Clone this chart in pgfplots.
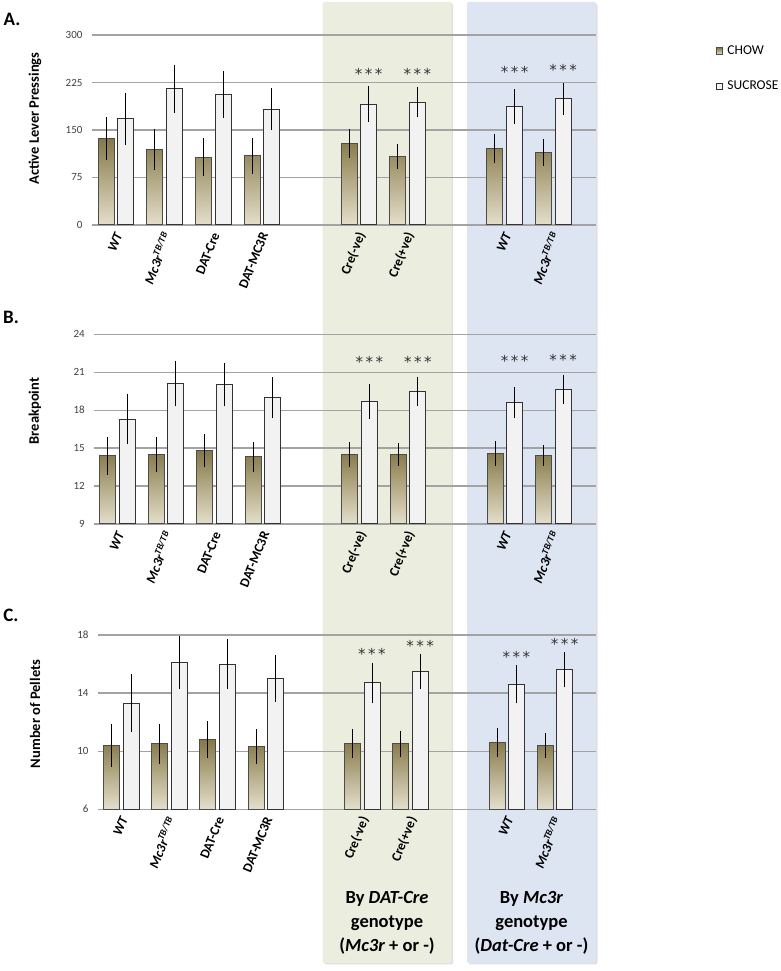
\documentclass[border=0pt]{standalone}
\usepackage{pgfplots}
\pgfplotsset{compat=1.18}
\usepackage{fontspec}
\setmainfont{Carlito}
\newfontfamily\starfont{DejaVu Sans}

\definecolor{chowtop}{HTML}{857845}
\definecolor{chowbot}{HTML}{E4DFCB}
\definecolor{sucfill}{HTML}{F2F2F2}
\definecolor{greenbg}{HTML}{EBEEDE}
\definecolor{bluebg}{HTML}{DCE5F1}
\definecolor{gridgray}{HTML}{A3A3A3}

\pgfplotsset{
  panel/.style={
    scale only axis, anchor=south west,
    ybar=3.6pt, bar width=16pt,
    axis line style={draw=none},
    major tick length=0pt,
    ymajorgrids, grid style={gridgray, line width=1.3pt},
    xtick={0,1,2,3,5,6,8,9},
    xticklabels={{\itshape WT}, {\itshape Mc3r\textsuperscript{TB/TB}}, DAT-Cre, DAT-MC3R,
                 Cre(-ve), Cre(+ve), {\itshape WT}, {\itshape Mc3r\textsuperscript{TB/TB}}},
    xticklabel style={font=\fontsize{13.5}{15}\selectfont\bfseries, xshift=4pt, yshift=-5pt, rotate=68, anchor=east},
    yticklabel style={font=\fontsize{11}{13}\selectfont, text=black!75, xshift=-6pt},
    /pgf/number format/assume math mode=true,
  },
  chow/.style={draw=black!70, line width=1pt, top color=chowtop, bottom color=chowbot},
  sucrose/.style={draw=black!80, line width=1pt, fill=sucfill},
}
\tikzset{stars/.style={font=\starfont\fontsize{15}{15}\selectfont, text=black!80}}

\begin{document}
\begin{tikzpicture}[x=1pt, y=1pt]
\path[use as bounding box] (0,0) rectangle (780,971);

% shaded group boxes
\fill[black!12, rounded corners=2pt] (324.2,6.5) rectangle (453.2,967.5);
\fill[greenbg, rounded corners=2pt] (322.7,8) rectangle (451.7,969);
\fill[black!12, rounded corners=2pt] (468.5,6.5) rectangle (597.5,967.5);
\fill[bluebg, rounded corners=2pt] (467,8) rectangle (596,969);

% A. active lever pressings
\begin{axis}[panel, at={(92pt,746pt)}, width=504pt, height=190pt,
    xmin=-0.494, xmax=9.877, ymin=0, ymax=300, ytick={0,75,150,225,300},
    legend style={at={(axis description cs:1.231,0.965)}, anchor=north west, draw=none, fill=none,
      font=\fontsize{13.5}{16}\selectfont, row sep=21pt, legend cell align=left},
    every axis plot post/.append style={legend image code/.code={%
      \draw[##1, line width=0.8pt] (0pt,-3.2pt) rectangle (6.4pt,3.2pt);}},
  ]
  \addplot[chow, error bars/.cd, y dir=both, y explicit, error mark=none, error bar style={black, line width=1pt}]
    coordinates {(0,137) +- (0,34) (1,119) +- (0,32) (2,107) +- (0,30) (3,109) +- (0,28)
                 (5,128) +- (0,23) (6,108) +- (0,20) (8,121) +- (0,23) (9,114) +- (0,21)};
  \addlegendentry{\hspace{2.6pt}CHOW}
  \addplot[sucrose, error bars/.cd, y dir=both, y explicit, error mark=none, error bar style={black, line width=1pt}]
    coordinates {(0,168) +- (0,41) (1,215) +- (0,38) (2,206) +- (0,37) (3,183) +- (0,33)
                 (5,191) +- (0,28) (6,194) +- (0,24) (8,187) +- (0,27) (9,199) +- (0,25)};
  \addlegendentry{\hspace{2.6pt}SUCROSE}
  \node[stars] at (axis cs:5.2,239) {*\,*\,*};
  \node[stars] at (axis cs:6.2,239) {*\,*\,*};
  \node[stars] at (axis cs:8.2,241) {*\,*\,*};
  \node[stars] at (axis cs:9.2,245) {*\,*\,*};
\end{axis}

% B. breakpoint
\begin{axis}[panel, at={(94.3pt,447pt)}, width=501.7pt, height=189.7pt,
    y coord trafo/.code={\pgfmathparse{#1-9}}, y coord inv trafo/.code={\pgfmathparse{#1+9}},
    xmin=-0.483, xmax=9.88, ymin=9, ymax=24, ytick={9,12,15,18,21,24},
    yticklabels={9,12,15,18,21,24},
  ]
  \addplot[chow, error bars/.cd, y dir=both, y explicit, error mark=none, error bar style={black, line width=1pt}]
    coordinates {(0,14.4) +- (0,1.5) (1,14.5) +- (0,1.4) (2,14.8) +- (0,1.3) (3,14.3) +- (0,1.2)
                 (5,14.5) +- (0,1.0) (6,14.5) +- (0,0.9) (8,14.6) +- (0,1.0) (9,14.4) +- (0,0.85)};
  \addplot[sucrose, error bars/.cd, y dir=both, y explicit, error mark=none, error bar style={black, line width=1pt}]
    coordinates {(0,17.3) +- (0,2.0) (1,20.1) +- (0,1.8) (2,20.0) +- (0,1.7) (3,19.0) +- (0,1.6)
                 (5,18.7) +- (0,1.4) (6,19.5) +- (0,1.15) (8,18.6) +- (0,1.25) (9,19.6) +- (0,1.15)};
  \node[stars] at (axis cs:5.2,21.8) {*\,*\,*};
  \node[stars] at (axis cs:6.2,21.8) {*\,*\,*};
  \node[stars] at (axis cs:8.2,21.9) {*\,*\,*};
  \node[stars] at (axis cs:9.2,21.95) {*\,*\,*};
\end{axis}

% C. number of pellets
\begin{axis}[panel, at={(98pt,161.7pt)}, width=498pt, height=174.3pt,
    y coord trafo/.code={\pgfmathparse{#1-6}}, y coord inv trafo/.code={\pgfmathparse{#1+6}},
    xmin=-0.483, xmax=9.85, ymin=6, ymax=18, ytick={6,10,14,18},
    yticklabels={6,10,14,18},
  ]
  \addplot[chow, error bars/.cd, y dir=both, y explicit, error mark=none, error bar style={black, line width=1pt}]
    coordinates {(0,10.4) +- (0,1.5) (1,10.5) +- (0,1.4) (2,10.8) +- (0,1.3) (3,10.3) +- (0,1.2)
                 (5,10.5) +- (0,1.0) (6,10.5) +- (0,0.9) (8,10.6) +- (0,1.0) (9,10.4) +- (0,0.87)};
  \addplot[sucrose, error bars/.cd, y dir=both, y explicit, error mark=none, error bar style={black, line width=1pt}]
    coordinates {(0,13.3) +- (0,2.0) (1,16.1) +- (0,1.8) (2,16.0) +- (0,1.7) (3,15.0) +- (0,1.6)
                 (5,14.7) +- (0,1.4) (6,15.5) +- (0,1.2) (8,14.6) +- (0,1.3) (9,15.6) +- (0,1.2)};
  \node[stars] at (axis cs:5.2,16.7) {*\,*\,*};
  \node[stars] at (axis cs:6.2,17.25) {*\,*\,*};
  \node[stars] at (axis cs:8.2,16.5) {*\,*\,*};
  \node[stars] at (axis cs:9.2,17.4) {*\,*\,*};
\end{axis}

% panel letters and y labels
\node[font=\fontsize{19}{20}\selectfont\bfseries] at (12,952) {A.};
\node[font=\fontsize{19}{20}\selectfont\bfseries] at (11,654) {B.};
\node[font=\fontsize{19}{20}\selectfont\bfseries] at (11,356) {C.};
\node[font=\fontsize{14.5}{16}\selectfont\bfseries, rotate=90] at (35,852.5) {Active Lever Pressings};
\node[font=\fontsize{14.5}{16}\selectfont\bfseries, rotate=90] at (35,560) {Breakpoint};
\node[font=\fontsize{14.5}{16}\selectfont\bfseries, rotate=90] at (35,257) {Number of Pellets};

% group captions
\node[font=\fontsize{18.5}{24}\selectfont\bfseries, align=center] at (387,48)
  {By \textit{DAT-Cre}\\genotype\\(\textit{Mc3r} + or -)};
\node[font=\fontsize{18.5}{24}\selectfont\bfseries, align=center] at (531.5,48)
  {By \textit{Mc3r}\\genotype\\(\textit{Dat-Cre} + or -)};
\end{tikzpicture}
\end{document}
